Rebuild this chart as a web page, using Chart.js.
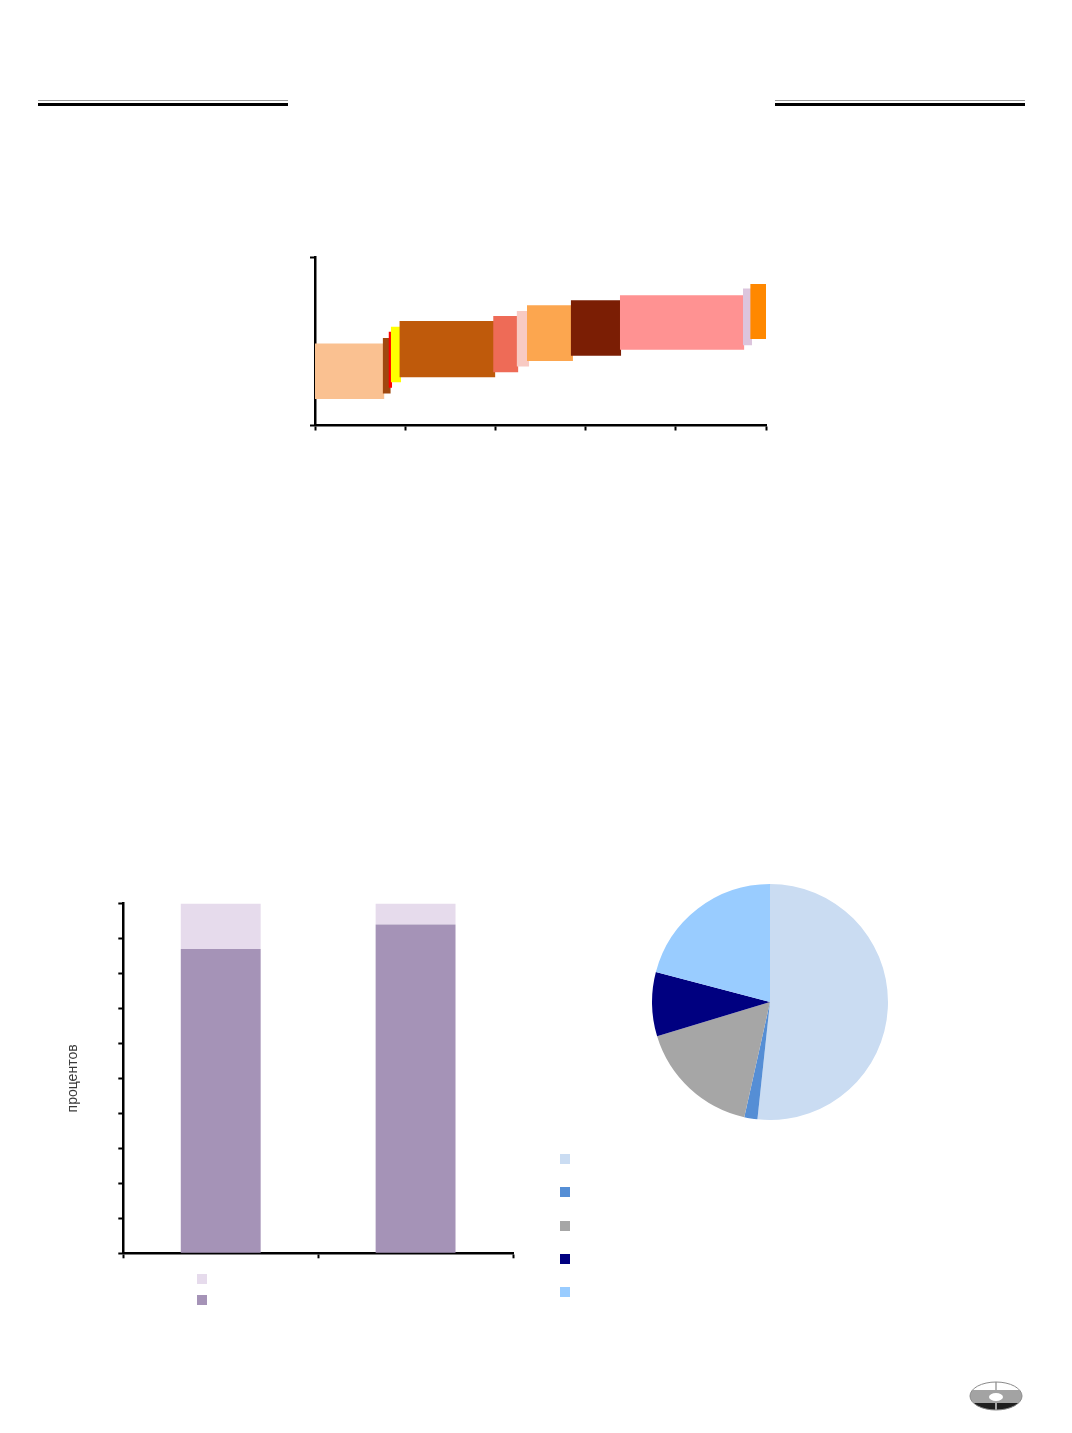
<!DOCTYPE html>
<html>
<head>
<meta charset="utf-8">
<script src="https://cdn.jsdelivr.net/npm/chart.js@4.4.1/dist/chart.umd.min.js"></script>
<style>
  html, body { margin: 0; padding: 0; background: #ffffff; }
  #page { position: relative; width: 1072px; height: 1433px; overflow: hidden; font-family: "Liberation Sans", Arial, sans-serif; }
  .rule { position: absolute; height: 6px; }
  .rule .thin { position: absolute; left: 0; right: 0; top: 0; height: 1px; background: #9a9a9a; }
  .rule .thick { position: absolute; left: 0; right: 0; top: 3px; height: 3px; background: #000; }
  canvas { position: absolute; }
  .key { position: absolute; width: 10px; height: 10px; }
  #emblem { position: absolute; left: 966px; top: 1378px; }
</style>
</head>
<body>
<div id="page">
  <div class="rule" style="left:38px; width:250px; top:100px;"><div class="thin"></div><div class="thick"></div></div>
  <div class="rule" style="left:775px; width:250px; top:100px;"><div class="thin"></div><div class="thick"></div></div>

  <canvas id="costChart" width="480" height="195" style="left:300px; top:245px;"></canvas>
  <canvas id="shareChart" width="480" height="380" style="left:50px; top:890px;"></canvas>
  <canvas id="pieChart" width="236" height="236" style="left:652px; top:884px;"></canvas>
  <div id="shareKeys"></div>
  <div id="pieKeys"></div>

  <svg id="emblem" width="62" height="38" viewBox="0 0 62 38">
    <defs>
      <clipPath id="disc"><ellipse cx="30" cy="18" rx="26" ry="14"/></clipPath>
    </defs>
    <g clip-path="url(#disc)">
      <rect x="0" y="0" width="62" height="38" fill="#ffffff"/>
      <rect x="0" y="12" width="62" height="13" fill="#a3a3a3"/>
      <rect x="0" y="25" width="62" height="13" fill="#1e1e1e"/>
      <rect x="29.4" y="0" width="1.2" height="12" fill="#8a8a8a"/>
      <rect x="29.4" y="25" width="1.2" height="13" fill="#ffffff"/>
    </g>
    <ellipse cx="30" cy="18" rx="26" ry="14" fill="none" stroke="#8a8a8a" stroke-width="1"/>
    <ellipse cx="30" cy="19" rx="7" ry="4" fill="#ffffff"/>
  </svg>
</div>

<script>
// Supply steps: each block spans [costStart, costEnd] horizontally and [costLow, costHigh] vertically
const costStart = [0, 15.0, 16.3, 16.8, 18.7, 39.5, 44.7, 47.0, 56.7, 67.6, 94.9, 96.5];
const costEnd   = [15.4, 16.8, 17.1, 19.1, 40.0, 45.1, 47.5, 57.2, 67.9, 95.2, 96.9, 100];
const costLow   = [4.7, 5.7, 6.7, 7.7, 8.6, 9.5, 10.5, 11.5, 12.4, 13.5, 14.3, 15.4];
const costHigh  = [14.6, 15.6, 16.7, 17.6, 18.6, 19.5, 20.4, 21.4, 22.3, 23.2, 24.4, 25.2];
const costColors = ['#fac191', '#a0480f', '#ff0000', '#ffff00', '#bf5a0b', '#ee6b57',
                    '#f8cac3', '#fca64f', '#7b1e04', '#ff9292', '#dcc5dd', '#ff8800'];

// Stacked shares, per cent
const shareCategories = ['1', '2'];
const shareLower = [87, 94];
const shareUpper = [13, 6];
const shareColors = ['#a593b7', '#e6dbec'];
const shareAxisTitle = 'процентов';

// Structure pie, per cent
const pieValues = [51.7, 1.8, 16.8, 8.8, 20.9];
const pieColors = ['#cadcf2', '#558ed5', '#a6a6a6', '#000080', '#99ccff'];

Chart.defaults.font.family = '"Liberation Sans", Arial, sans-serif';
Chart.defaults.animation = false;
Chart.defaults.devicePixelRatio = 1;

// ---- Block chart ----
const costDatasets = [];
costStart.forEach((x0, i) => {
  const x1 = costEnd[i];
  const drawOrder = costStart.length - i;
  costDatasets.push({
    data: [{ x: x0, y: costHigh[i] }, { x: x1, y: costHigh[i] }],
    fill: '+1',
    backgroundColor: costColors[i],
    borderColor: 'rgba(0,0,0,0)',
    borderWidth: 0,
    pointRadius: 0,
    order: drawOrder
  });
  costDatasets.push({
    data: [{ x: x0, y: costLow[i] }, { x: x1, y: costLow[i] }],
    fill: false,
    borderColor: 'rgba(0,0,0,0)',
    borderWidth: 0,
    pointRadius: 0,
    order: drawOrder
  });
});

const axisGrid = {
  drawOnChartArea: false,
  drawTicks: true,
  tickLength: 5,
  tickWidth: 2,
  tickColor: '#000',
  color: '#000'
};
const axisBorder = { display: true, color: '#000', width: 2.5 };

new Chart(document.getElementById('costChart'), {
  type: 'line',
  data: { datasets: costDatasets },
  options: {
    responsive: false,
    events: [],
    layout: { padding: { left: 10, top: 12, right: 14, bottom: 9.5 } },
    plugins: { legend: { display: false }, tooltip: { enabled: false } },
    scales: {
      x: {
        type: 'linear', min: 0, max: 100,
        ticks: { display: false, stepSize: 20 },
        grid: axisGrid, border: axisBorder
      },
      y: {
        type: 'linear', min: 0, max: 30,
        ticks: { display: false, stepSize: 30 },
        grid: axisGrid, border: axisBorder
      }
    }
  }
});

// ---- Stacked bar chart ----
const shareChart = new Chart(document.getElementById('shareChart'), {
  type: 'bar',
  data: {
    labels: shareCategories,
    datasets: [
      { data: shareLower, backgroundColor: shareColors[0], borderWidth: 0 },
      { data: shareUpper, backgroundColor: shareColors[1], borderWidth: 0 }
    ]
  },
  options: {
    responsive: false,
    events: [],
    categoryPercentage: 1,
    barPercentage: 0.41,
    layout: { padding: { left: 14.6, top: 13.5, right: 17, bottom: 11.7 } },
    plugins: { legend: { display: false }, tooltip: { enabled: false } },
    scales: {
      x: {
        stacked: true,
        ticks: { display: false },
        grid: Object.assign({ offset: true }, axisGrid),
        border: axisBorder
      },
      y: {
        stacked: true, min: 0, max: 100,
        ticks: { display: false, stepSize: 10 },
        grid: axisGrid, border: axisBorder,
        title: {
          display: true, text: shareAxisTitle, color: '#3a3a3a',
          font: { size: 14 }, padding: { top: 0, bottom: 36.9 }
        }
      }
    }
  }
});

// ---- Pie ----
const pieChart = new Chart(document.getElementById('pieChart'), {
  type: 'pie',
  data: {
    labels: pieValues.map((v, i) => String(i + 1)),
    datasets: [{ data: pieValues, backgroundColor: pieColors, borderWidth: 0, hoverOffset: 0 }]
  },
  options: {
    responsive: false,
    events: [],
    layout: { padding: 0 },
    plugins: { legend: { display: false }, tooltip: { enabled: false } }
  }
});

// ---- Key squares, colours taken from the charts ----
function addKeys(containerId, colors, left, top, step) {
  const box = document.getElementById(containerId);
  colors.forEach((c, i) => {
    const d = document.createElement('div');
    d.className = 'key';
    d.style.left = left + 'px';
    d.style.top = (top + i * step) + 'px';
    d.style.background = c;
    box.appendChild(d);
  });
}
addKeys('shareKeys',
  shareChart.data.datasets.map(ds => ds.backgroundColor).reverse(), 197, 1274, 21);
addKeys('pieKeys', pieChart.data.datasets[0].backgroundColor, 560, 1154, 33.3);
</script>
</body>
</html>
